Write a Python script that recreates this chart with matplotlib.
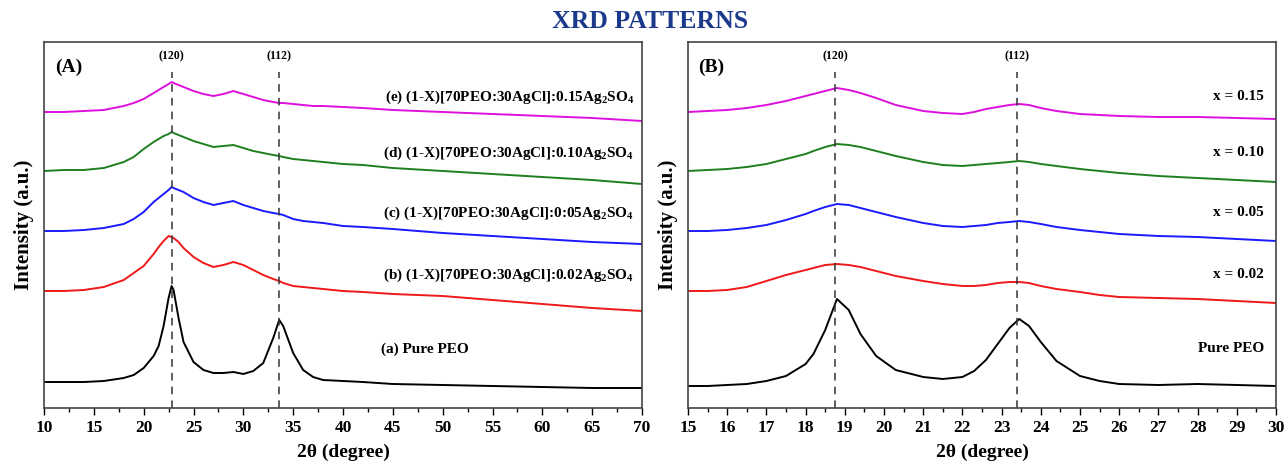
import matplotlib
matplotlib.use("Agg")
import matplotlib.pyplot as plt
from matplotlib.ticker import MultipleLocator

plt.rcParams["font.family"] = ["Liberation Serif", "DejaVu Serif"]
plt.rcParams["font.weight"] = "bold"
plt.rcParams["mathtext.fontset"] = "custom"
plt.rcParams["mathtext.rm"] = "Liberation Serif:bold"
plt.rcParams["mathtext.bf"] = "Liberation Serif:bold"
plt.rcParams["mathtext.it"] = "Liberation Serif:bold"

# ---- panel A : wide scan, 10-70 deg (intensities in arbitrary units, already offset)
xa = [10, 12, 14, 16, 18, 19, 20, 21, 21.5, 22, 22.5, 22.8, 23, 23.5, 24, 25, 26, 27, 28,
      29, 30, 31, 32, 33, 33.6, 34, 35, 36, 37, 38, 40, 42, 45, 50, 55, 60, 65, 70]
a_pure = [26, 26, 26, 27, 30, 33, 40, 52, 62, 82, 110, 122, 118, 90, 66, 46, 38, 35, 35,
          36, 34, 37, 45, 70, 88, 82, 55, 38, 31, 28, 27, 26, 24, 23, 22, 21, 20, 20]
a_002 = [117, 117, 118, 121, 128, 135, 142, 154, 161, 167, 172, 171, 170, 166, 160, 151, 145, 141, 143,
         146, 143, 138, 133, 129, 127, 125, 122, 121, 120, 119, 117, 116, 114, 112, 108, 104, 100, 97]
a_005 = [177, 177, 178, 180, 184, 189, 196, 206, 210, 214, 218, 221, 220, 218, 216, 210, 206, 203, 205,
         207, 203, 200, 197, 195, 194, 193, 189, 187, 186, 185, 182, 181, 179, 175, 172, 169, 166, 164]
a_010 = [237, 238, 238, 240, 246, 251, 259, 266, 269, 272, 274, 276, 275, 273, 271, 267, 264, 261, 262,
         263, 260, 257, 255, 253, 252, 251, 249, 248, 247, 246, 244, 243, 240, 237, 234, 231, 228, 224]
a_015 = [296, 296, 297, 298, 302, 305, 309, 315, 318, 321, 324, 326, 325, 323, 321, 317, 314, 312, 314,
         317, 314, 311, 308, 306, 305, 305, 304, 303, 302, 302, 301, 300, 298, 296, 294, 292, 290, 287]
a_labels = ["(a) Pure PEO",
            "(b) (1-X)[70PEO:30AgCl]:0.02Ag$_2$SO$_4$",
            "(c) (1-X)[70PEO:30AgCl]:0:05Ag$_2$SO$_4$",
            "(d) (1-X)[70PEO:30AgCl]:0.10Ag$_2$SO$_4$",
            "(e) (1-X)[70PEO:30AgCl]:0.15Ag$_2$SO$_4$"]
a_peaks = [22.8, 33.55]

# ---- panel B : zoom 15-30 deg
xb = [15, 15.5, 16, 16.5, 17, 17.5, 18, 18.2, 18.5, 18.8, 19.1, 19.4, 19.8, 20.3, 21, 21.5,
      22, 22.3, 22.6, 22.9, 23.2, 23.45, 23.7, 24, 24.4, 25, 25.5, 26, 27, 28, 29, 30]
b_pure = [22, 22, 23, 24, 27, 32, 44, 54, 78, 109, 98, 74, 52, 38, 31, 29,
          31, 37, 48, 64, 80, 89, 82, 66, 47, 32, 27, 24, 23, 24, 23, 22]
b_002 = [117, 117, 118, 121, 127, 133, 138, 140, 143, 144, 143, 141, 137, 132, 127, 124,
         122, 122, 123, 125, 126, 126, 125, 122, 119, 116, 113, 111, 110, 109, 107, 105]
b_005 = [177, 177, 178, 180, 183, 188, 194, 197, 201, 204, 203, 200, 196, 191, 185, 182,
         181, 182, 183, 185, 186, 187, 186, 184, 181, 178, 176, 174, 172, 171, 169, 167]
b_010 = [237, 238, 239, 241, 244, 249, 254, 257, 261, 264, 263, 261, 257, 252, 246, 243,
         242, 243, 244, 245, 246, 247, 246, 244, 242, 239, 237, 235, 232, 230, 228, 226]
b_015 = [296, 297, 298, 300, 303, 307, 312, 314, 317, 320, 318, 315, 310, 303, 297, 295,
         294, 296, 299, 301, 303, 304, 303, 300, 297, 294, 293, 292, 291, 291, 290, 289]
b_labels = ["Pure PEO", "x = 0.02", "x = 0.05", "x = 0.10", "x = 0.15"]
b_peaks = [18.75, 23.4]

colors = ["black", "#f01818", "#1a1aff", "#1f7f1f", "#dd10dd"]
label_y = [59, 133, 195, 255, 311]

W, H = 1286, 462
fig = plt.figure(figsize=(W / 100, H / 100), dpi=100)
axA = fig.add_axes([44 / W, 1 - 408 / H, 598 / W, 366 / H])
axB = fig.add_axes([688 / W, 1 - 408 / H, 588 / W, 366 / H])

fig.text(650 / W, 1 - 22 / H, "XRD PATTERNS", ha="center", va="center",
         fontsize=18.5, fontweight="bold", color="#1c3a8c")


def draw_panel(ax, x, series, labels, peaks, xlim, major, minor, tag, lab_x, first_ha):
    for y, c in zip(series, colors):
        ax.plot(x, y, color=c, lw=1.4)
    for p in peaks:
        ax.vlines(p, 0, 336, colors="#333333", linestyles=(0, (5, 4)), lw=1.1)
    ax.text(peaks[0], 352, "(120)", ha="center", va="center", fontsize=8.5, fontweight="bold")
    ax.text(peaks[1], 352, "(112)", ha="center", va="center", fontsize=8.5, fontweight="bold")
    for i, (t, yy) in enumerate(zip(labels, label_y)):
        if i == 0:
            ax.text(lab_x[0], yy, t, ha=first_ha, va="center", fontsize=11, fontweight="bold")
        else:
            ax.text(lab_x[1], yy, t, ha="right", va="center", fontsize=11, fontweight="bold")
    ax.text(0.018, 0.93, tag, transform=ax.transAxes, ha="left", va="center",
            fontsize=14, fontweight="bold")
    ax.set_xlim(*xlim)
    ax.set_ylim(0, 366)
    ax.set_yticks([])
    ax.xaxis.set_major_locator(MultipleLocator(major))
    ax.xaxis.set_minor_locator(MultipleLocator(minor))
    ax.tick_params(axis="x", which="major", direction="out", length=5, width=1, labelsize=12.5, pad=4)
    ax.tick_params(axis="x", which="minor", direction="out", length=3, width=1)
    for lbl in ax.get_xticklabels():
        lbl.set_fontweight("bold")
    for s in ax.spines.values():
        s.set_color("#444444")
        s.set_linewidth(1.2)
    ax.set_xlabel("2θ (degree)", fontsize=14, fontweight="bold", labelpad=5)
    ax.set_ylabel("Intensity (a.u.)", fontsize=15, fontweight="bold", labelpad=7)


draw_panel(axA, xa, [a_pure, a_002, a_005, a_010, a_015], a_labels, a_peaks,
           (10, 70), 5, 2.5, "(A)", [48.2, 69.2], "center")
draw_panel(axB, xb, [b_pure, b_002, b_005, b_010, b_015], b_labels, b_peaks,
           (15, 30), 1, 0.5, "(B)", [29.7, 29.7], "right")

fig.savefig("out.png", dpi=100)
